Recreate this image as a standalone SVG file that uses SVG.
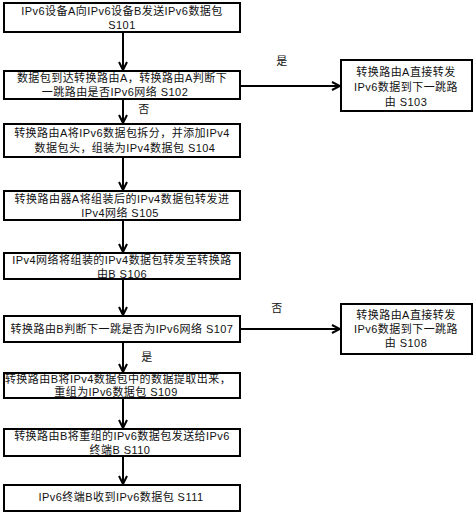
<svg xmlns="http://www.w3.org/2000/svg" width="474" height="514" viewBox="0 0 474 514">
<defs>
<marker id="ah" viewBox="0 0 10 10" refX="9" refY="5" markerWidth="10" markerHeight="10" markerUnits="userSpaceOnUse" orient="auto">
<path d="M1,1 L9,5 L1,9" fill="none" stroke="#000" stroke-width="2"/>
</marker>
</defs>
<style>
rect{fill:#fff;stroke:#000;stroke-width:2}
text{font-family:"Liberation Sans","Noto Sans CJK SC",sans-serif;font-size:11px;letter-spacing:0.45px;fill:#111;text-anchor:middle}
.c line{stroke:#000;stroke-width:2;marker-end:url(#ah)}
</style>
<rect x="0" y="0" width="474" height="514" style="stroke:none"/>
<g class="c" id="connectors">
<line x1="123" y1="33" x2="123" y2="70"/>
<line x1="123" y1="100" x2="123" y2="123"/>
<line x1="123" y1="158" x2="123" y2="190"/>
<line x1="123" y1="221" x2="123" y2="252"/>
<line x1="123" y1="280" x2="123" y2="315"/>
<line x1="123" y1="343" x2="123" y2="372"/>
<line x1="123" y1="399" x2="123" y2="428"/>
<line x1="123" y1="457" x2="123" y2="484"/>
<line x1="241" y1="86" x2="340" y2="86"/>
<line x1="241" y1="329" x2="340" y2="329"/>
</g>
<g id="labels">
<text x="282" y="65">是</text>
<text x="144" y="113">否</text>
<text x="277" y="312">否</text>
<text x="147" y="361">是</text>
</g>
<g id="S101"><rect x="4" y="3" width="236" height="29"/><text x="122" y="15">IPv6设备A向IPv6设备B发送IPv6数据包</text><text x="122" y="29">S101</text></g>
<g id="S102"><rect x="4" y="71" width="236" height="28"/><text x="122" y="82">数据包到达转换路由A，转换路由A判断下</text><text x="115" y="96">一跳路由是否IPv6网络 S102</text></g>
<g id="S103"><rect x="341" y="60" width="131" height="51"/><text x="406" y="76">转换路由A直接转发</text><text x="406" y="91">IPv6数据到下一跳路</text><text x="406" y="106">由  S103</text></g>
<g id="S104"><rect x="4" y="124" width="236" height="33"/><text x="122" y="137">转换路由A将IPv6数据包拆分，并添加IPv4</text><text x="125" y="152">数据包头，组装为IPv4数据包  S104</text></g>
<g id="S105"><rect x="4" y="191" width="236" height="29"/><text x="122" y="203">转换路由器A将组装后的IPv4数据包转发进</text><text x="120" y="217">IPv4网络  S105</text></g>
<g id="S106"><rect x="4" y="253" width="236" height="26"/><text x="122" y="264">IPv4网络将组装的IPv4数据包转发至转换路</text><text x="122" y="278">由B  S106</text></g>
<g id="S107"><rect x="4" y="316" width="236" height="26"/><text x="122" y="333">转换路由B判断下一跳是否为IPv6网络 S107</text></g>
<g id="S108"><rect x="341" y="304" width="131" height="50"/><text x="406" y="319">转换路由A直接转发</text><text x="406" y="333">IPv6数据到下一跳路</text><text x="406" y="347">由  S108</text></g>
<g id="S109"><rect x="4" y="373" width="236" height="25"/><text x="118" y="383">转换路由B将IPv4数据包中的数据提取出来，</text><text x="116" y="396">重组为IPv6数据包 S109</text></g>
<g id="S110"><rect x="4" y="429" width="236" height="27"/><text x="122" y="440">转换路由B将重组的IPv6数据包发送给IPv6</text><text x="120" y="454">终端B  S110</text></g>
<g id="S111"><rect x="4" y="485" width="236" height="26"/><text x="121" y="501">IPv6终端B收到IPv6数据包  S111</text></g>
</svg>
